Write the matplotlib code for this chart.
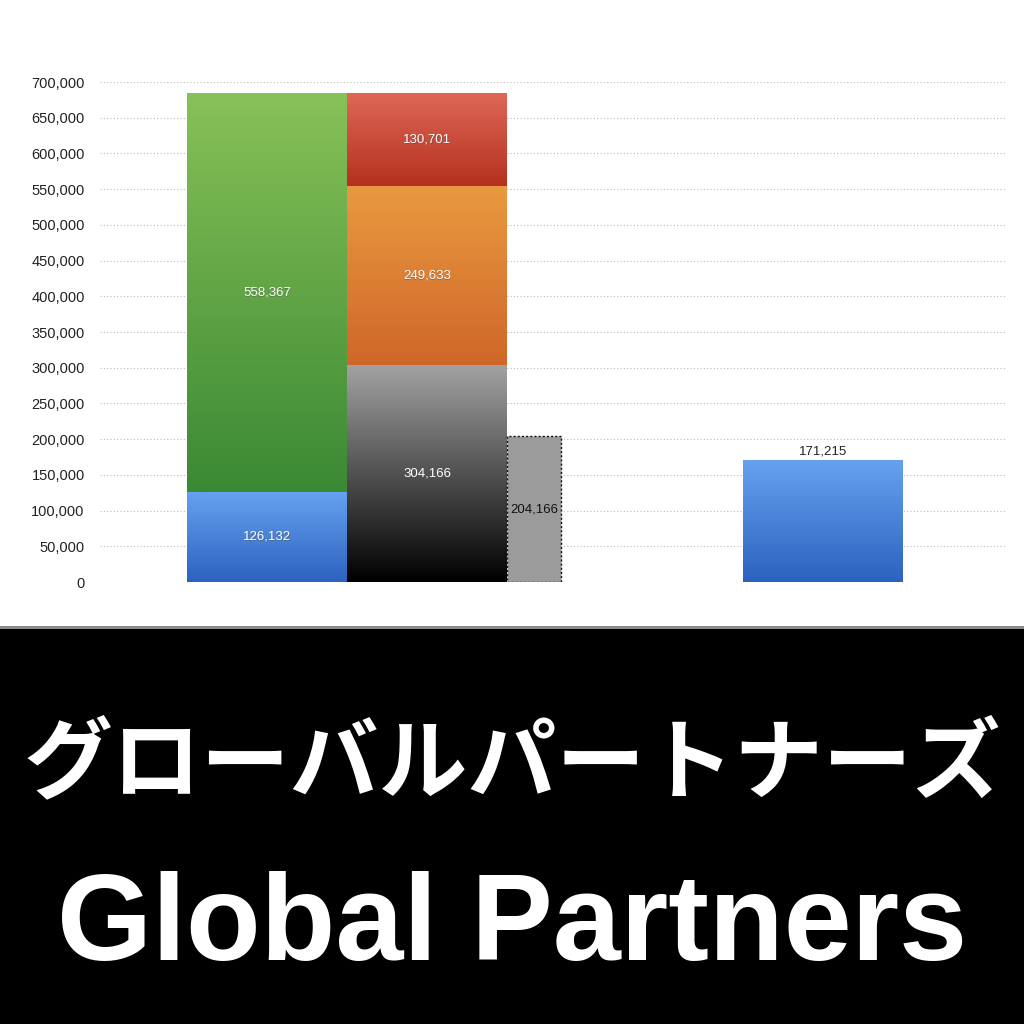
import matplotlib
matplotlib.use('Agg')
import matplotlib.pyplot as plt
import numpy as np
from matplotlib.colors import LinearSegmentedColormap
from matplotlib.patches import Rectangle

plt.rcParams['font.family'] = ['Liberation Sans', 'DejaVu Sans']

# data
left_stack = [126132, 558367]          # blue, green
mid_stack = [304166, 249633, 130701]   # black, orange, red
dashed_value = 204166
right_value = 171215

left_cols = [('#2c62bf', '#66a2f0'), ('#3a8934', '#88c157')]
mid_cols = [('#000000', '#a3a3a3'), ('#cf6629', '#e99a40'), ('#b5301e', '#df6858')]
right_cols = ('#2c62bf', '#66a2f0')

yticks = np.arange(0, 700001, 50000)

fig = plt.figure(figsize=(10.24, 10.24), dpi=100)
ax = fig.add_axes([100/1024, 1 - 582/1024, 905/1024, 500/1024])
ax.set_xlim(0, 905/160)
ax.set_ylim(0, 700000)


def grad_bar(x, bottom, height, width, cols):
    bar = ax.bar(x, height, width=width, bottom=bottom, color='none',
                 edgecolor='none', zorder=2)[0]
    cmap = LinearSegmentedColormap.from_list('g', [cols[0], cols[1]])
    img = np.linspace(0, 1, 256).reshape(-1, 1)
    im = ax.imshow(img, cmap=cmap, aspect='auto', origin='lower',
                   extent=[x - width/2, x + width/2, bottom, bottom + height],
                   zorder=2)
    im.set_clip_path(bar)
    return bar


def inner_label(x, y, val, color='white'):
    ax.text(x + 0.004, y - 1200, f'{val:,}', ha='center', va='center',
            fontsize=9.5, color='#555555', alpha=0.5, zorder=3)
    ax.text(x, y, f'{val:,}', ha='center', va='center', fontsize=9.5,
            color=color, zorder=4)


x1 = 167/160
x2 = 327/160
xd = 434/160
xr = 723/160

b = 0
for v, c in zip(left_stack, left_cols):
    grad_bar(x1, b, v, 1.0, c)
    inner_label(x1, b + v/2, v)
    b += v

b = 0
for v, c in zip(mid_stack, mid_cols):
    grad_bar(x2, b, v, 1.0, c)
    inner_label(x2, b + v/2, v)
    b += v

ax.bar(xd, dashed_value, width=54/160, color='#9b9b9b', edgecolor='#111111',
       linestyle=(0, (1.5, 1.5)), linewidth=1.0, zorder=2)
ax.text(xd, dashed_value/2, f'{dashed_value:,}', ha='center', va='center',
        fontsize=9.5, color='#111111', zorder=4)

grad_bar(xr, 0, right_value, 1.0, right_cols)
ax.text(xr, right_value + 3000, f'{right_value:,}', ha='center', va='bottom',
        fontsize=9.5, color='#222222', zorder=4)

ax.set_yticks(yticks)
ax.set_yticklabels([f'{t:,}' for t in yticks], fontsize=10.5, color='#222222')
ax.tick_params(axis='y', length=0, pad=11)
ax.set_xticks([])
ax.yaxis.grid(True, linestyle=(0, (1, 2)), color='#bbbbbb', linewidth=0.8)
ax.set_axisbelow(True)
for s in ax.spines.values():
    s.set_visible(False)

# black title panel
fig.patches.append(Rectangle((0, 0), 1, 1 - 627/1024, transform=fig.transFigure,
                             facecolor='black', edgecolor='none', zorder=0))
fig.patches.append(Rectangle((0, 1 - 629/1024), 1, 3/1024, transform=fig.transFigure,
                             facecolor='#8a8a8a', edgecolor='none', zorder=0))

fig.text(0.5, 1 - 765/1024, 'グローバルパートナーズ', ha='center', va='center',
         fontsize=64, fontweight='bold', color='white',
         family=['Noto Sans CJK JP', 'DejaVu Sans'])
fig.text(0.5, 1 - 928/1024, 'Global Partners', ha='center', va='center',
         fontsize=88, fontweight='bold', color='white', family='Liberation Sans')

fig.savefig('out.png', dpi=100)
